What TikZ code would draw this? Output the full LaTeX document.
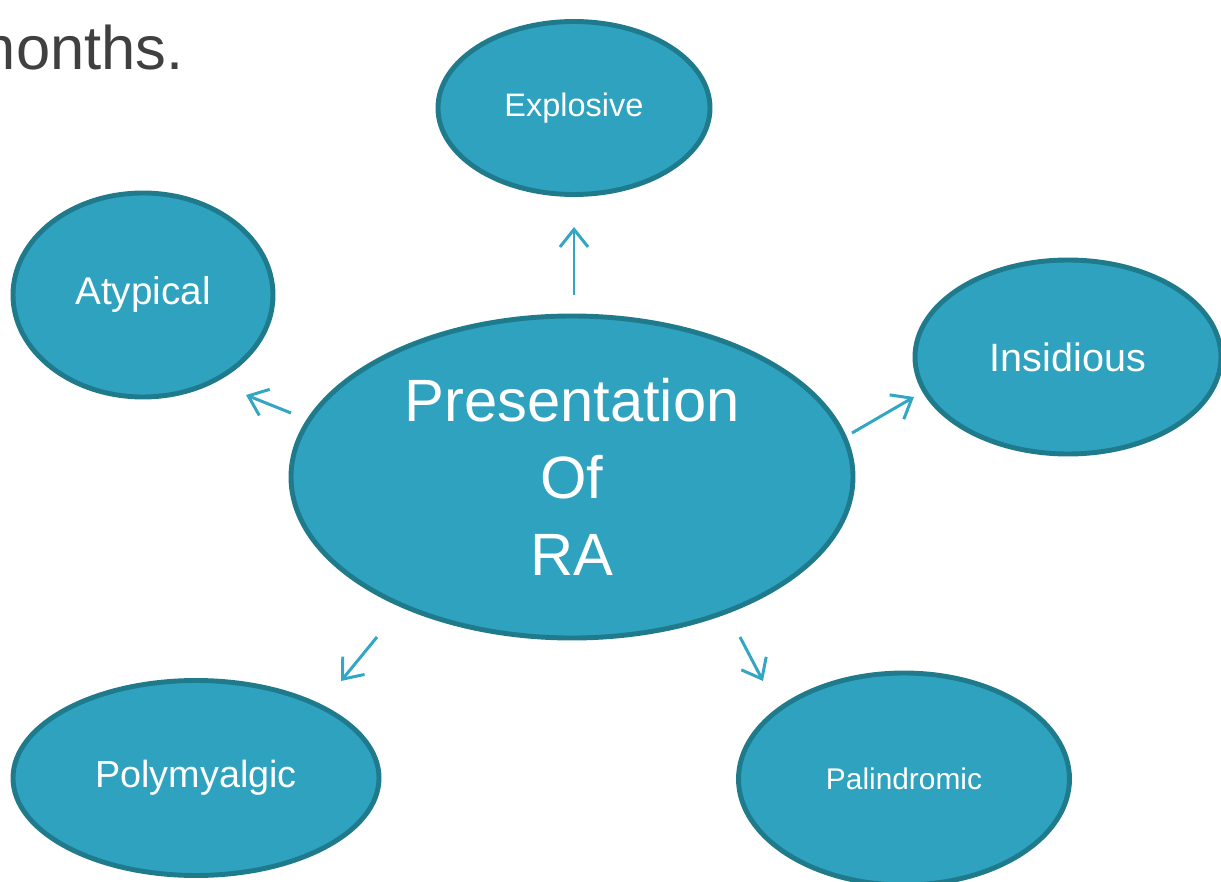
\documentclass[tikz,border=0pt]{standalone}
\usepackage{fontspec}
\setmainfont{Liberation Sans}
\usetikzlibrary{arrows.meta,shapes.geometric}
\definecolor{tealfill}{RGB}{46,162,190}
\definecolor{tealedge}{RGB}{31,122,140}
\definecolor{arrowcol}{RGB}{50,166,194}
\definecolor{textgray}{RGB}{64,64,64}
\tikzset{
  bubble/.style={ellipse, fill=tealfill, draw=tealedge, line width=2.8pt, text=white, inner sep=0pt, align=center},
  link/.style={draw=arrowcol, line width=1.7pt, -{Straight Barb[length=10pt,width=16pt,line width=1.7pt]}}
}
\begin{document}
\begin{tikzpicture}[x=0.02cm,y=-0.02cm]
\useasboundingbox (0,0) rectangle (1221,882);
\begin{scope}
\clip (0,0) rectangle (1221,882);
\node[anchor=base east, text=textgray, inner sep=0pt, font=\fontsize{35}{40}\selectfont] (months) at (184,70) {months.};
\node[bubble, minimum width=562*0.02cm, minimum height=322*0.02cm, font=\fontsize{34}{43.7}\selectfont] (ra) at (572,477) {Presentation\\Of\\RA};
\node[bubble, minimum width=272*0.02cm, minimum height=173*0.02cm, font=\fontsize{18.5}{22}\selectfont] (exp) at (574,108) {Explosive};
\node[bubble, minimum width=260*0.02cm, minimum height=204*0.02cm, font=\fontsize{22}{26}\selectfont] (aty) at (143,295) {\raisebox{-2pt}{Atypical}};
\node[bubble, minimum width=306*0.02cm, minimum height=194*0.02cm, font=\fontsize{22.5}{26}\selectfont] (ins) at (1068,357) {Insidious};
\node[bubble, minimum width=366*0.02cm, minimum height=195*0.02cm, font=\fontsize{21.5}{26}\selectfont] (poly) at (196,778) {\raisebox{-2pt}{Polymyalgic}};
\node[bubble, minimum width=331*0.02cm, minimum height=212*0.02cm, font=\fontsize{17}{20}\selectfont] (pal) at (904,779) {Palindromic};
\coordinate (a1s) at (574,295); \coordinate (a1e) at (574,227);
\coordinate (a2s) at (291,413); \coordinate (a2e) at (246,395);
\coordinate (a3s) at (852,433); \coordinate (a3e) at (914,397);
\coordinate (a4s) at (377,637); \coordinate (a4e) at (341,681);
\coordinate (a5s) at (740,637); \coordinate (a5e) at (763,681);
\draw[link] (a1s) -- (a1e);
\draw[link] (a2s) -- (a2e);
\draw[link] (a3s) -- (a3e);
\draw[link] (a4s) -- (a4e);
\draw[link] (a5s) -- (a5e);
\end{scope}
\end{tikzpicture}
\end{document}
